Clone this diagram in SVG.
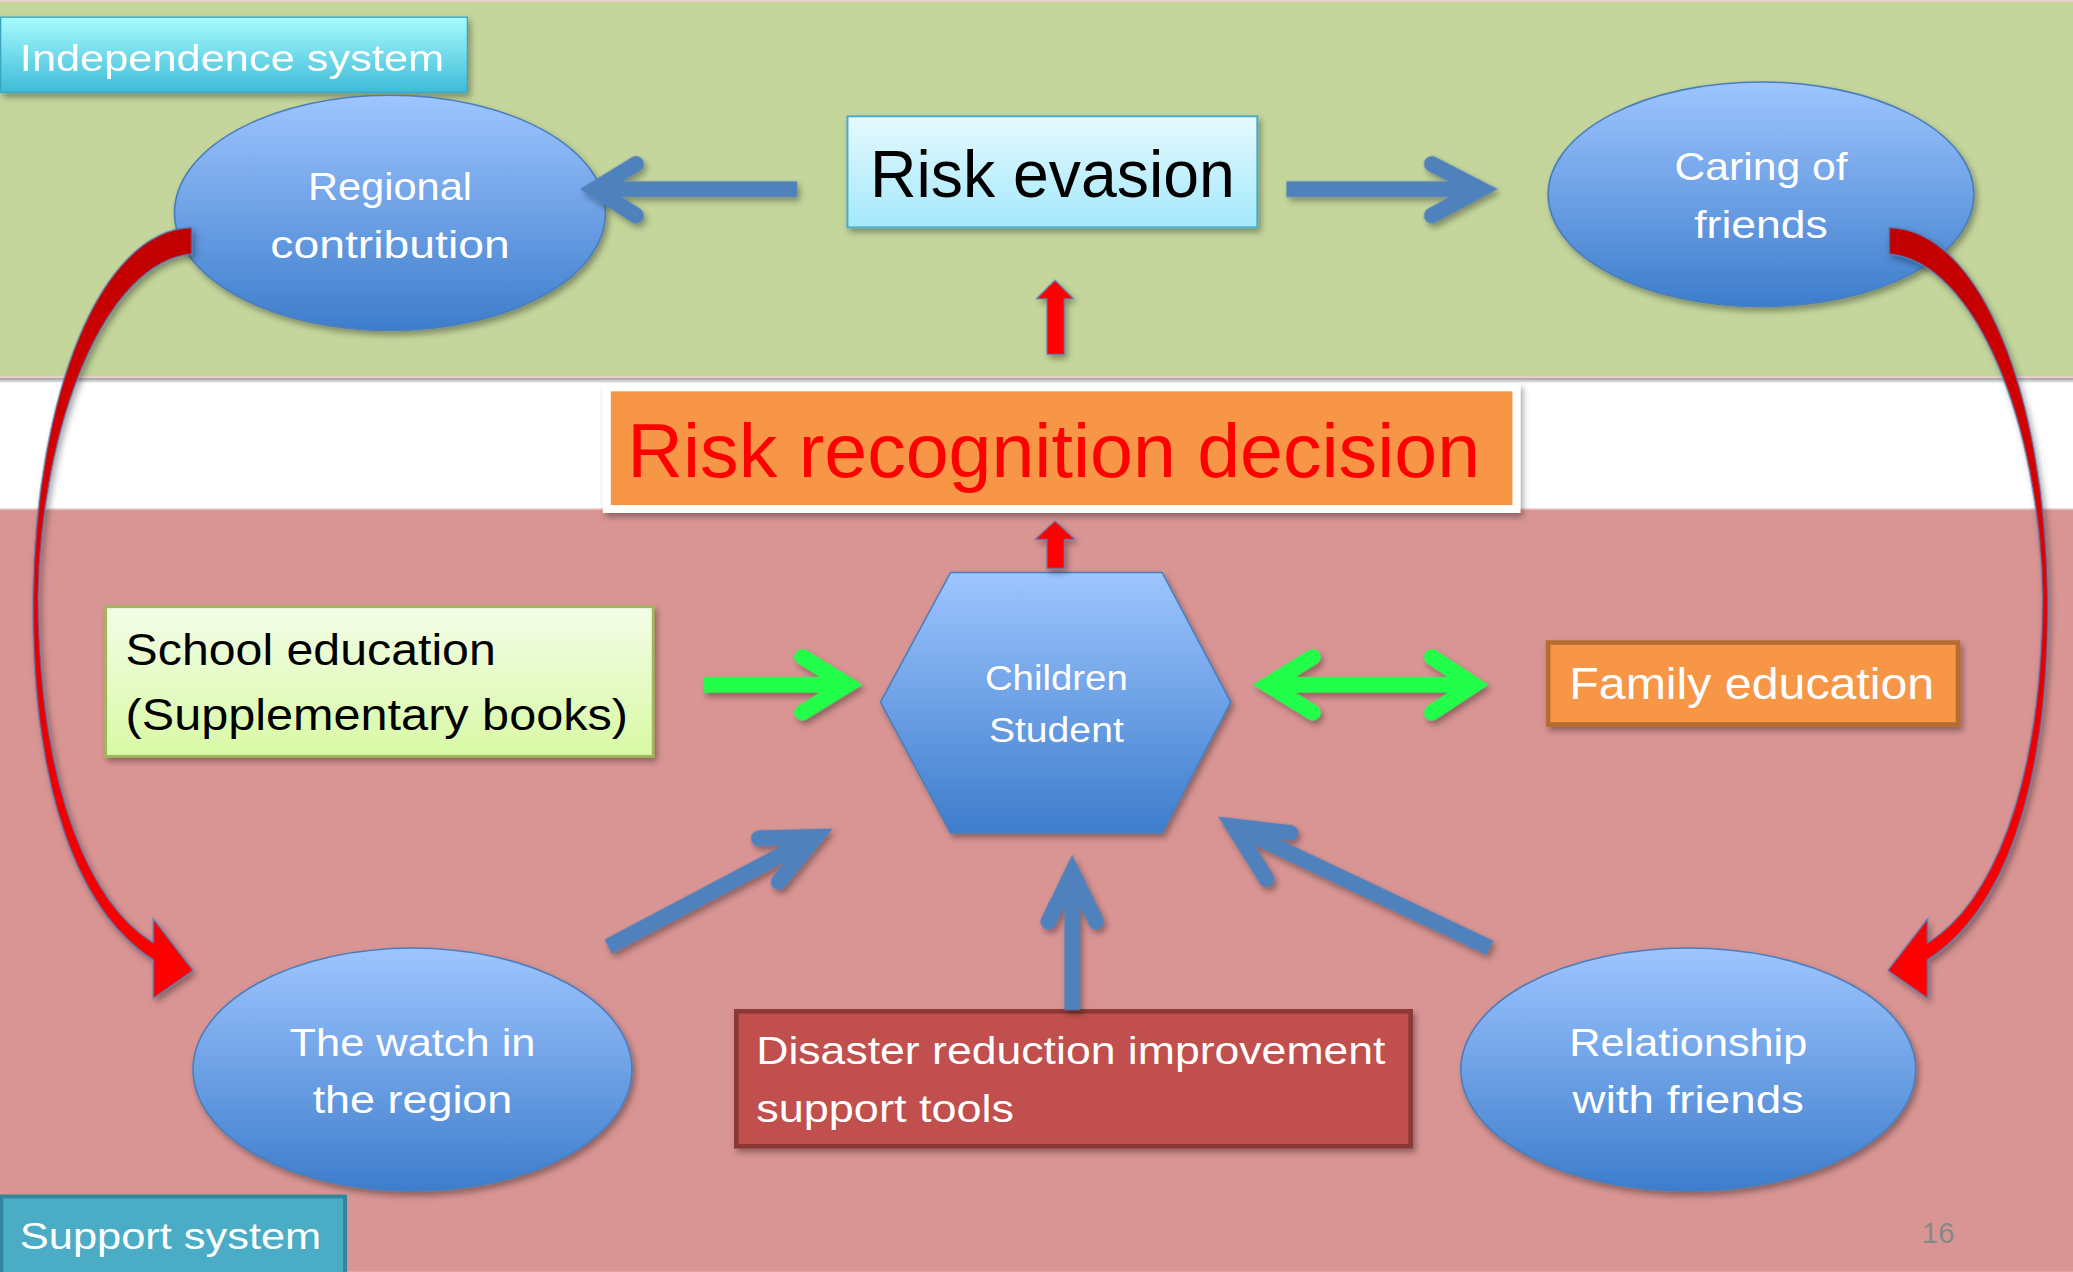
<svg xmlns="http://www.w3.org/2000/svg" width="2073" height="1272" viewBox="0 0 2073 1272">
<defs>
  <linearGradient id="gBlue" x1="0" y1="0" x2="0" y2="1">
    <stop offset="0" stop-color="#9ec5ff"/>
    <stop offset="1" stop-color="#3d7dcc"/>
  </linearGradient>
  <linearGradient id="gCyan" x1="0" y1="0" x2="0" y2="1">
    <stop offset="0" stop-color="#a8fbfd"/>
    <stop offset="1" stop-color="#3dbbd8"/>
  </linearGradient>
  <linearGradient id="gLight" x1="0" y1="0" x2="0" y2="1">
    <stop offset="0" stop-color="#e6f9fe"/>
    <stop offset="1" stop-color="#a3e9fc"/>
  </linearGradient>
  <linearGradient id="gGreen" x1="0" y1="0" x2="0" y2="1">
    <stop offset="0" stop-color="#f4fde8"/>
    <stop offset="1" stop-color="#d8f9a4"/>
  </linearGradient>
  <linearGradient id="gRed" x1="0" y1="0" x2="0" y2="1">
    <stop offset="0" stop-color="#c00000"/>
    <stop offset="0.45" stop-color="#e00000"/>
    <stop offset="1" stop-color="#ff0000"/>
  </linearGradient>
  <linearGradient id="gShade" x1="0" y1="0" x2="0" y2="1">
    <stop offset="0" stop-color="#9a9a9a"/>
    <stop offset="1" stop-color="#ffffff"/>
  </linearGradient>
  <filter id="sh" x="-10%" y="-10%" width="125%" height="130%">
    <feDropShadow dx="2" dy="3" stdDeviation="2.5" flood-color="#000" flood-opacity="0.35"/>
  </filter>
  <style>
    .txt { font-family: "Liberation Sans", "Noto Sans", Arial, sans-serif; }
    .w { fill: #ffffff; }
    .k { fill: #000000; }
    .ell { fill: url(#gBlue); stroke: #4a7ebb; stroke-width: 1.2; }
    .blue { fill: none; stroke: #4f81bd; stroke-width: 12; }
    .green { fill: none; stroke: #22ff4c; stroke-width: 12; }
    .shaft { stroke-linecap: butt; }
    .head { stroke-linecap: round; stroke-linejoin: miter; stroke-miterlimit: 6; }
    .redar { fill: #ff0000; stroke: #4f81bd; stroke-width: 0.8; }
    .curve { fill: url(#gRed); stroke: #4f81bd; stroke-width: 0.9; }
  </style>
</defs>
<g transform="scale(1.32207)">
  <!-- background bands -->
  <rect x="0" y="0" width="1568" height="962" fill="#ffffff"/>
  <rect x="0" y="0" width="1568" height="285" fill="#c4d69c"/>
  <rect x="0" y="0" width="1568" height="1.5" fill="#e8cfcb"/>
  <rect x="0" y="284.5" width="1568" height="1.5" fill="#e8cfcb"/>
  <rect x="0" y="286" width="1568" height="4" fill="url(#gShade)"/>
  <rect x="0" y="385" width="1568" height="577" fill="#d99594"/>
  <rect x="0" y="384.5" width="1568" height="1.2" fill="#e8c4c2"/>

  <!-- nodes -->
  <g id="independence-system" filter="url(#sh)">
    <rect x="0.5" y="13" width="353" height="57" fill="url(#gCyan)" stroke="#3aa6c0" stroke-width="1"/>
    <text class="txt w" x="15" y="54" font-size="28" textLength="321" lengthAdjust="spacingAndGlyphs">Independence system</text>
  </g>

  <g id="regional-contribution">
    <ellipse class="ell" cx="295" cy="161" rx="163" ry="89" filter="url(#sh)"/>
    <text class="txt w" x="295" y="151" font-size="29" text-anchor="middle" textLength="124" lengthAdjust="spacingAndGlyphs">Regional</text>
    <text class="txt w" x="295" y="195" font-size="29" text-anchor="middle" textLength="181" lengthAdjust="spacingAndGlyphs">contribution</text>
  </g>

  <g id="risk-evasion">
    <rect x="641" y="88" width="310" height="84" fill="url(#gLight)" stroke="#4bacc6" stroke-width="1.5" filter="url(#sh)"/>
    <text class="txt k" x="796" y="149" font-size="51" text-anchor="middle" textLength="276" lengthAdjust="spacingAndGlyphs">Risk evasion</text>
  </g>

  <g id="caring-of-friends">
    <ellipse class="ell" cx="1332" cy="147" rx="161" ry="85" filter="url(#sh)"/>
    <text class="txt w" x="1332" y="136" font-size="29" text-anchor="middle" textLength="131" lengthAdjust="spacingAndGlyphs">Caring of</text>
    <text class="txt w" x="1332" y="180" font-size="29" text-anchor="middle" textLength="101" lengthAdjust="spacingAndGlyphs">friends</text>
  </g>

  <g id="risk-recognition-decision">
    <rect x="456" y="290" width="694" height="98" fill="#ffffff" filter="url(#sh)"/>
    <rect x="462" y="296" width="682" height="86" fill="#f79646"/>
    <text class="txt" fill="#ff0000" x="797" y="361" font-size="57" text-anchor="middle" textLength="645" lengthAdjust="spacingAndGlyphs">Risk recognition decision</text>
  </g>

  <g id="school-education">
    <rect x="80" y="459" width="414" height="113" fill="url(#gGreen)" stroke="#9bbb59" stroke-width="2" filter="url(#sh)"/>
    <text class="txt k" x="95" y="503" font-size="34" textLength="280" lengthAdjust="spacingAndGlyphs">School education</text>
    <text class="txt k" x="95" y="552" font-size="34" textLength="380" lengthAdjust="spacingAndGlyphs">(Supplementary books)</text>
  </g>

  <g id="children-student">
    <polygon points="719,433 879,433 931,531 879,630 719,630 666,531" fill="url(#gBlue)" stroke="#4a7ebb" stroke-width="1.2" filter="url(#sh)"/>
    <text class="txt w" x="799" y="522" font-size="26" text-anchor="middle" textLength="108" lengthAdjust="spacingAndGlyphs">Children</text>
    <text class="txt w" x="799" y="561" font-size="26" text-anchor="middle" textLength="102" lengthAdjust="spacingAndGlyphs">Student</text>
  </g>

  <g id="family-education">
    <rect x="1171" y="486" width="310" height="62" fill="#f79646" stroke="#b66d31" stroke-width="3.5" filter="url(#sh)"/>
    <text class="txt w" x="1325" y="529" font-size="34" text-anchor="middle" textLength="276" lengthAdjust="spacingAndGlyphs">Family education</text>
  </g>

  <g id="watch-in-region">
    <ellipse class="ell" cx="312" cy="809" rx="166" ry="92" filter="url(#sh)"/>
    <text class="txt w" x="312" y="799" font-size="29" text-anchor="middle" textLength="186" lengthAdjust="spacingAndGlyphs">The watch in</text>
    <text class="txt w" x="312" y="842" font-size="29" text-anchor="middle" textLength="151" lengthAdjust="spacingAndGlyphs">the region</text>
  </g>

  <g id="disaster-reduction">
    <rect x="557" y="765" width="510" height="102" fill="#c0504d" stroke="#8c3836" stroke-width="3.5" filter="url(#sh)"/>
    <text class="txt w" x="572" y="805" font-size="29" textLength="476" lengthAdjust="spacingAndGlyphs">Disaster reduction improvement</text>
    <text class="txt w" x="572" y="849" font-size="29" textLength="195" lengthAdjust="spacingAndGlyphs">support tools</text>
  </g>

  <g id="relationship-with-friends">
    <ellipse class="ell" cx="1277" cy="809" rx="172" ry="92" filter="url(#sh)"/>
    <text class="txt w" x="1277" y="799" font-size="29" text-anchor="middle" textLength="180" lengthAdjust="spacingAndGlyphs">Relationship</text>
    <text class="txt w" x="1277" y="842" font-size="29" text-anchor="middle" textLength="175" lengthAdjust="spacingAndGlyphs">with friends</text>
  </g>

  <g id="support-system">
    <rect x="1" y="905" width="260" height="60" fill="#4bacc6" stroke="#31859c" stroke-width="3"/>
    <text class="txt w" x="15" y="945" font-size="28" textLength="228" lengthAdjust="spacingAndGlyphs">Support system</text>
  </g>

  <g id="page-number">
    <text class="txt" fill="#888888" x="1466" y="940" font-size="22" text-anchor="middle">16</text>
  </g>

  <!-- connectors -->
  <g id="connectors">
    <g filter="url(#sh)">
      <!-- curved red arrows -->
      <path id="curveLeft" class="curve" d="M145,172 C75,174 27,300 25,452 C24,600 60,690 116,726 L116,755 L146,734 L116,695 L116,713 C70,685 30,600 29,452 C31,320 80,198 145,192 Z"/>
      <path id="curveRight" class="curve" transform="translate(1574,0) scale(-1,1)" d="M145,172 C75,174 27,300 25,452 C24,600 60,690 116,726 L116,755 L146,734 L116,695 L116,713 C70,685 30,600 29,452 C31,320 80,198 145,192 Z"/>
    </g>
    <g filter="url(#sh)">
      <!-- top blue arrows -->
      <path class="blue shaft" d="M603,143 L452,143"/>
      <path class="blue head" d="M481,124 L450,143 L481,163"/>
      <path class="blue shaft" d="M973,143 L1118,143"/>
      <path class="blue head" d="M1083,124 L1120,143 L1083,163"/>
      <!-- green arrows -->
      <path class="green shaft" d="M532,518 L639,518"/>
      <path class="green head" d="M607,497 L641,518 L607,539"/>
      <path class="green shaft" d="M961,518 L1113,518"/>
      <path class="green head" d="M993,497 L959,518 L993,539"/>
      <path class="green head" d="M1083,497 L1115,518 L1083,539"/>
      <!-- bottom blue arrows -->
      <path class="blue shaft" d="M460,716 L615,634"/>
      <path class="blue head" d="M574,634 L617,633 L589,667"/>
      <path class="blue shaft" d="M811,764 L811,662"/>
      <path class="blue head" d="M793,697 L811,660 L829,697"/>
      <path class="blue shaft" d="M1127,717 L935,626"/>
      <path class="blue head" d="M976,630 L933,625 L958,665"/>
      <!-- red small arrows -->
      <path class="redar" d="M792,268 L792,226 L784,226 L798,212 L812,226 L805,226 L805,268 Z"/>
      <path class="redar" d="M792,430 L792,408 L783,408 L798,394 L813,408 L805,408 L805,430 Z"/>
    </g>
  </g>
</g>
</svg>
